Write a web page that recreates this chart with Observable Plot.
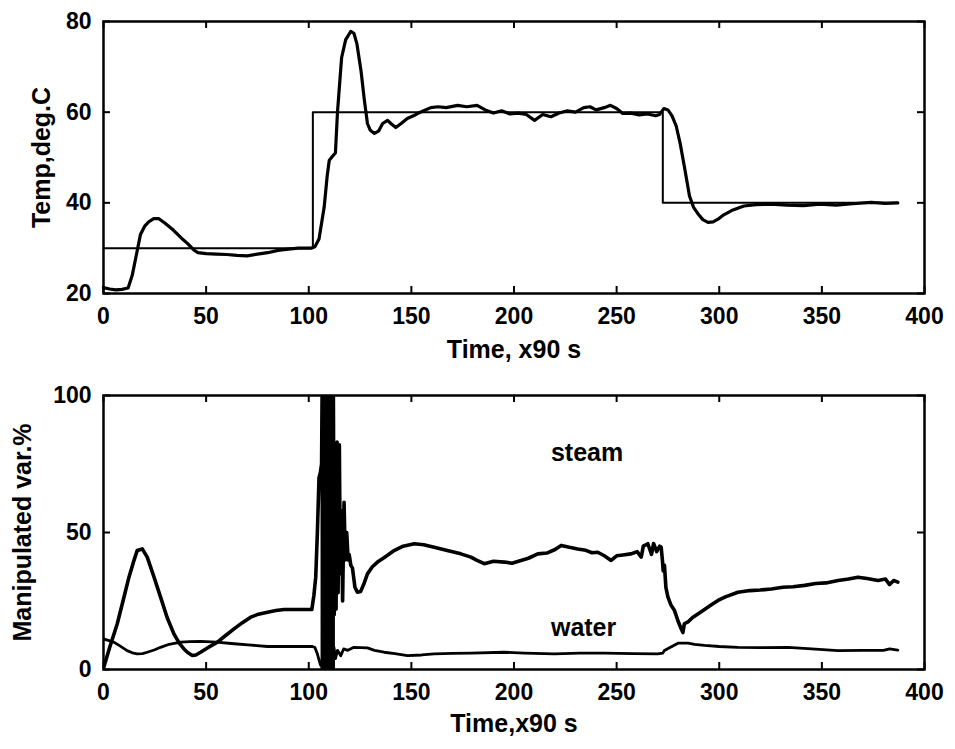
<!DOCTYPE html>
<html>
<head>
<meta charset="utf-8">
<script src="https://cdn.jsdelivr.net/npm/d3@7"></script>
<script src="https://cdn.jsdelivr.net/npm/@observablehq/plot@0.6"></script>
<style>
  html, body { margin: 0; padding: 0; background: #fff; }
  #chart svg { display: block; }
</style>
</head>
<body>
<div id="chart"></div>
<script>
// ---------- data ----------
const xTicks = [0, 50, 100, 150, 200, 250, 300, 350, 400];
const tempTicks = [20, 40, 60, 80];
const mvTicks = [0, 50, 100];

// Top panel: setpoint
const spT = [0, 102, 102, 272.5, 272.5, 387];
const spV = [30, 30, 60, 60, 40, 40];

// Top panel: measured temperature
const tempT = [0, 3, 6, 9, 12, 14, 16, 18, 20, 22, 24.5, 27, 30, 34, 38, 41, 44, 46, 50, 55, 60, 65, 70, 75, 80, 85, 90, 95, 101, 103, 105, 107.5, 109, 110, 112, 113, 114, 116, 118, 120.5, 122, 123.5, 125.5, 127, 128.6, 130, 132, 134, 136, 138.4, 140, 142.4, 145, 148, 151, 153, 156, 159.5, 163, 167, 172.5, 177, 182, 186, 190, 194, 198, 202, 206, 210, 214, 218, 222, 226, 230, 234, 237, 240, 244, 247, 250, 253, 257, 261, 265, 269, 271, 273, 275, 277, 279, 281, 283, 285.5, 287.5, 289.6, 292, 294.5, 297, 299.4, 302, 306, 312, 318, 325, 333, 341, 349, 357, 365, 374, 381, 387];
const tempV = [21.3, 21, 20.8, 20.9, 21.2, 24, 28.5, 33, 34.8, 35.8, 36.5, 36.5, 35.5, 34, 32.2, 31, 29.6, 29, 28.8, 28.7, 28.6, 28.4, 28.3, 28.7, 29, 29.5, 29.8, 30, 30, 30.3, 32, 39, 46, 49.4, 50.5, 51, 60, 72, 76, 77.8, 77.4, 75, 69, 63, 57.5, 56, 55.3, 55.8, 57.5, 58.2, 57.5, 56.6, 57.5, 58.6, 59.2, 59.7, 60.3, 61, 61.2, 61, 61.5, 61.2, 61.5, 60.5, 59.8, 60.3, 59.6, 59.8, 59.5, 58.2, 59.5, 59, 59.8, 60.3, 60, 61, 61.2, 60.5, 61, 61.5, 60.8, 59.7, 59.8, 59.4, 59.6, 59.2, 59.5, 60.8, 60.5, 59.2, 57, 53, 48, 41.5, 39, 37.6, 36.3, 35.7, 35.8, 36.4, 37.3, 38.3, 39.3, 39.6, 39.7, 39.5, 39.4, 39.7, 39.5, 39.8, 40.1, 39.9, 40];

// Bottom panel: steam valve
const steamT = [0, 3, 6.7, 9.5, 12.4, 14.5, 16.4, 18.9, 21.3, 24.5, 27.8, 31, 34.3, 37, 39.2, 41, 43.3, 45, 47.3, 51, 55.5, 59.5, 63.6, 67.5, 71.7, 75.5, 79.9, 84, 88, 93, 98, 101.5, 102.5, 103.4, 104.2, 105, 105.7, 106.25,
  106.5, 106.75, 107, 107.25, 107.5, 107.75, 108, 108.25, 108.5, 108.75, 109, 109.25, 109.5, 109.75, 110, 110.25, 110.5, 110.75, 111, 111.25, 111.5, 111.75, 112,
  112.4, 112.9, 113.3, 113.8, 114.3, 114.9, 115.4, 116, 116.5, 117.2, 117.8, 118.5, 119.2, 119.7, 120.5, 121.3, 122.5, 123.7, 125.3, 127, 128.6, 131, 133.5, 137, 141.6, 146, 151.4, 156, 161.1, 167, 174.1, 179, 182, 185.5, 190, 195.3, 199, 203.4, 207, 211.6, 216, 220, 223, 227, 231, 235, 238, 240.8, 244, 247.3, 250, 253, 257, 260, 262, 263, 265.2, 267, 268, 269.5, 271, 271.7, 272.3, 272.7, 273.3, 274, 275, 276.5, 278.2, 280, 281.5, 282.3, 283, 285, 287, 289.6, 293, 296, 299.4, 303, 309.1, 315, 320, 325.4, 331, 336, 341.6, 347, 352, 357.9, 363, 367.6, 372, 377.4, 381, 383, 385, 387];
const steamV = [0.5, 8, 16.7, 25, 33.7, 39, 43.4, 44, 41, 34, 26.4, 19, 13, 9.5, 7.5, 6.2, 5.1, 5.3, 6.3, 8, 10, 12.4, 14.8, 17, 19.1, 20.2, 20.9, 21.5, 21.9, 21.9, 21.9, 21.9, 27, 33.7, 50, 70, 72, 75,
  100, 0, 100, 0, 100, 0, 100, 0, 100, 0, 100, 0, 100, 0, 100, 0, 100, 0, 100, 0, 100, 0, 100,
  20, 80, 22, 83, 28, 82, 35, 58, 25, 61, 40, 50, 40, 42, 38, 37, 30, 28.2, 28.5, 31.5, 34.9, 37.5, 39.2, 41, 43.4, 45, 45.9, 45.5, 44.6, 43.5, 42.2, 41, 39.8, 38.6, 39.5, 39.2, 38.8, 39.8, 40.6, 42.2, 42.5, 43.8, 45.3, 44.6, 44, 43.5, 42.6, 42.8, 41.5, 39.8, 41.5, 41.8, 42.2, 43, 41, 45, 45.9, 42, 46, 43, 45, 44.6, 40, 36, 38, 30, 26.4, 23.5, 21.5, 17.5, 14.8, 13.5, 16.7, 17.5, 19, 20.3, 22, 23.5, 25.2, 26.5, 28.2, 28.8, 29, 29.4, 30, 30.2, 30.7, 31.4, 31.6, 32.5, 33, 33.7, 33.2, 32.5, 33, 31, 32.5, 31.9];

// Bottom panel: cooling water valve
const waterT = [0, 5, 8, 11.5, 14, 16.4, 19, 21.3, 25, 27.8, 32, 37.6, 42, 47.3, 55, 63.6, 72, 79.9, 90, 101.8, 103, 104.2, 105.2, 105.8, 106.25,
  106.5, 106.75, 107, 107.25, 107.5, 107.75, 108, 108.25, 108.5, 108.75, 109, 109.25, 109.5, 109.75, 110, 110.25, 110.5, 110.75, 111, 111.25, 111.5, 111.75, 112,
  112.3, 113, 114, 115.6, 117, 119, 122, 128.6, 132, 136.7, 142, 148.1, 155, 161.1, 170, 179, 195, 205, 219.7, 232, 244, 258, 270, 272.5, 273.3, 276, 279.9, 284.8, 288, 292.8, 300, 309.1, 320, 333.5, 345, 357.9, 370, 380, 383, 387];
const waterV = [11.2, 10, 8.6, 6.9, 6.1, 5.7, 5.8, 6.3, 7.2, 8.1, 9.2, 10, 10.2, 10.3, 10, 9.4, 8.9, 8.4, 8.4, 8.4, 8, 5.7, 3, 1.5, 2,
  0, 100, 0, 100, 0, 100, 0, 100, 0, 100, 0, 100, 0, 100, 0, 100, 0, 100, 0, 100, 0, 100, 0,
  8.1, 4, 7, 5, 7.5, 7, 8.1, 7.9, 7, 6.3, 5.8, 5.1, 5.3, 5.7, 5.9, 6, 6.3, 6, 5.7, 6, 6, 5.8, 5.7, 6, 6.9, 8, 9.6, 9.6, 9.2, 8.8, 8.4, 8.1, 8, 8.1, 7.5, 6.9, 7, 7, 7.5, 7.1];

const seriesLabels = ["steam", "water"];

// ---------- helpers ----------
const zip = (T, V) => T.map((t, i) => ({t, v: V[i]}));
const FONT = "'Liberation Sans', Arial, Helvetica, sans-serif";
const W = 955, mL = 103, mR = 31;
const plotW = W - mL - mR;

function frameMarks(yTicks, plotH) {
  return [
    Plot.frame({stroke: "#000", strokeWidth: 2.5}),
    Plot.tickX(xTicks, {x: d => d, stroke: "#000", strokeWidth: 2, insetTop: plotH - 7}),
    Plot.tickX(xTicks, {x: d => d, stroke: "#000", strokeWidth: 2, insetBottom: plotH - 7}),
    Plot.tickY(yTicks, {y: d => d, stroke: "#000", strokeWidth: 2, insetRight: plotW - 7}),
    Plot.tickY(yTicks, {y: d => d, stroke: "#000", strokeWidth: 2, insetLeft: plotW - 7}),
    Plot.axisX({ticks: xTicks, tickSize: 0, tickPadding: 14, fontSize: 23, fontWeight: "bold", label: null}),
    Plot.axisY({ticks: yTicks, tickSize: 0, tickPadding: 12, fontSize: 23, fontWeight: "bold", label: null})
  ];
}

// ---------- top panel ----------
const h1 = 370, mT1 = 21, mB1 = 77;
const topPlot = Plot.plot({
  width: W, height: h1,
  marginLeft: mL, marginRight: mR, marginTop: mT1, marginBottom: mB1,
  style: {fontFamily: FONT, fontWeight: "bold", color: "#000", background: "#fff"},
  x: {domain: [0, 400]},
  y: {domain: [20, 80]},
  marks: [
    Plot.line(zip(spT, spV), {x: "t", y: "v", stroke: "#000", strokeWidth: 2}),
    Plot.line(zip(tempT, tempV), {x: "t", y: "v", stroke: "#000", strokeWidth: 3.2, strokeLinejoin: "round"}),
    ...frameMarks(tempTicks, h1 - mT1 - mB1),
    Plot.text(["Time, x90 s"], {frameAnchor: "bottom", dy: 56, fontSize: 25, fontWeight: "bold", textAnchor: "middle", lineAnchor: "middle"}),
    Plot.text(["Temp,deg.C"], {frameAnchor: "left", dx: -62, rotate: -90, fontSize: 25, fontWeight: "bold", textAnchor: "middle", lineAnchor: "middle"})
  ]
});

// ---------- bottom panel ----------
const h2 = 379, mT2 = 25, mB2 = 80;
const bottomPlot = Plot.plot({
  width: W, height: h2,
  marginLeft: mL, marginRight: mR, marginTop: mT2, marginBottom: mB2,
  style: {fontFamily: FONT, fontWeight: "bold", color: "#000", background: "#fff"},
  x: {domain: [0, 400]},
  y: {domain: [0, 100]},
  marks: [
    Plot.line(zip(waterT, waterV), {x: "t", y: "v", stroke: "#000", strokeWidth: 2.8, strokeLinejoin: "round", clip: true}),
    Plot.line(zip(steamT, steamV), {x: "t", y: "v", stroke: "#000", strokeWidth: 3.6, strokeLinejoin: "round", clip: true}),
    ...frameMarks(mvTicks, h2 - mT2 - mB2),
    Plot.text(seriesLabels, {x: [218, 218], y: [79, 15], textAnchor: "start", fontSize: 25, fontWeight: "bold", lineAnchor: "middle"}),
    Plot.text(["Time,x90 s"], {frameAnchor: "bottom", dy: 54, fontSize: 25, fontWeight: "bold", textAnchor: "middle", lineAnchor: "middle"}),
    Plot.text(["Manipulated var.%"], {frameAnchor: "left", dx: -81, rotate: -90, fontSize: 25, fontWeight: "bold", textAnchor: "middle", lineAnchor: "middle"})
  ]
});

const chart = document.getElementById("chart");
chart.appendChild(topPlot);
chart.appendChild(bottomPlot);
</script>
</body>
</html>
